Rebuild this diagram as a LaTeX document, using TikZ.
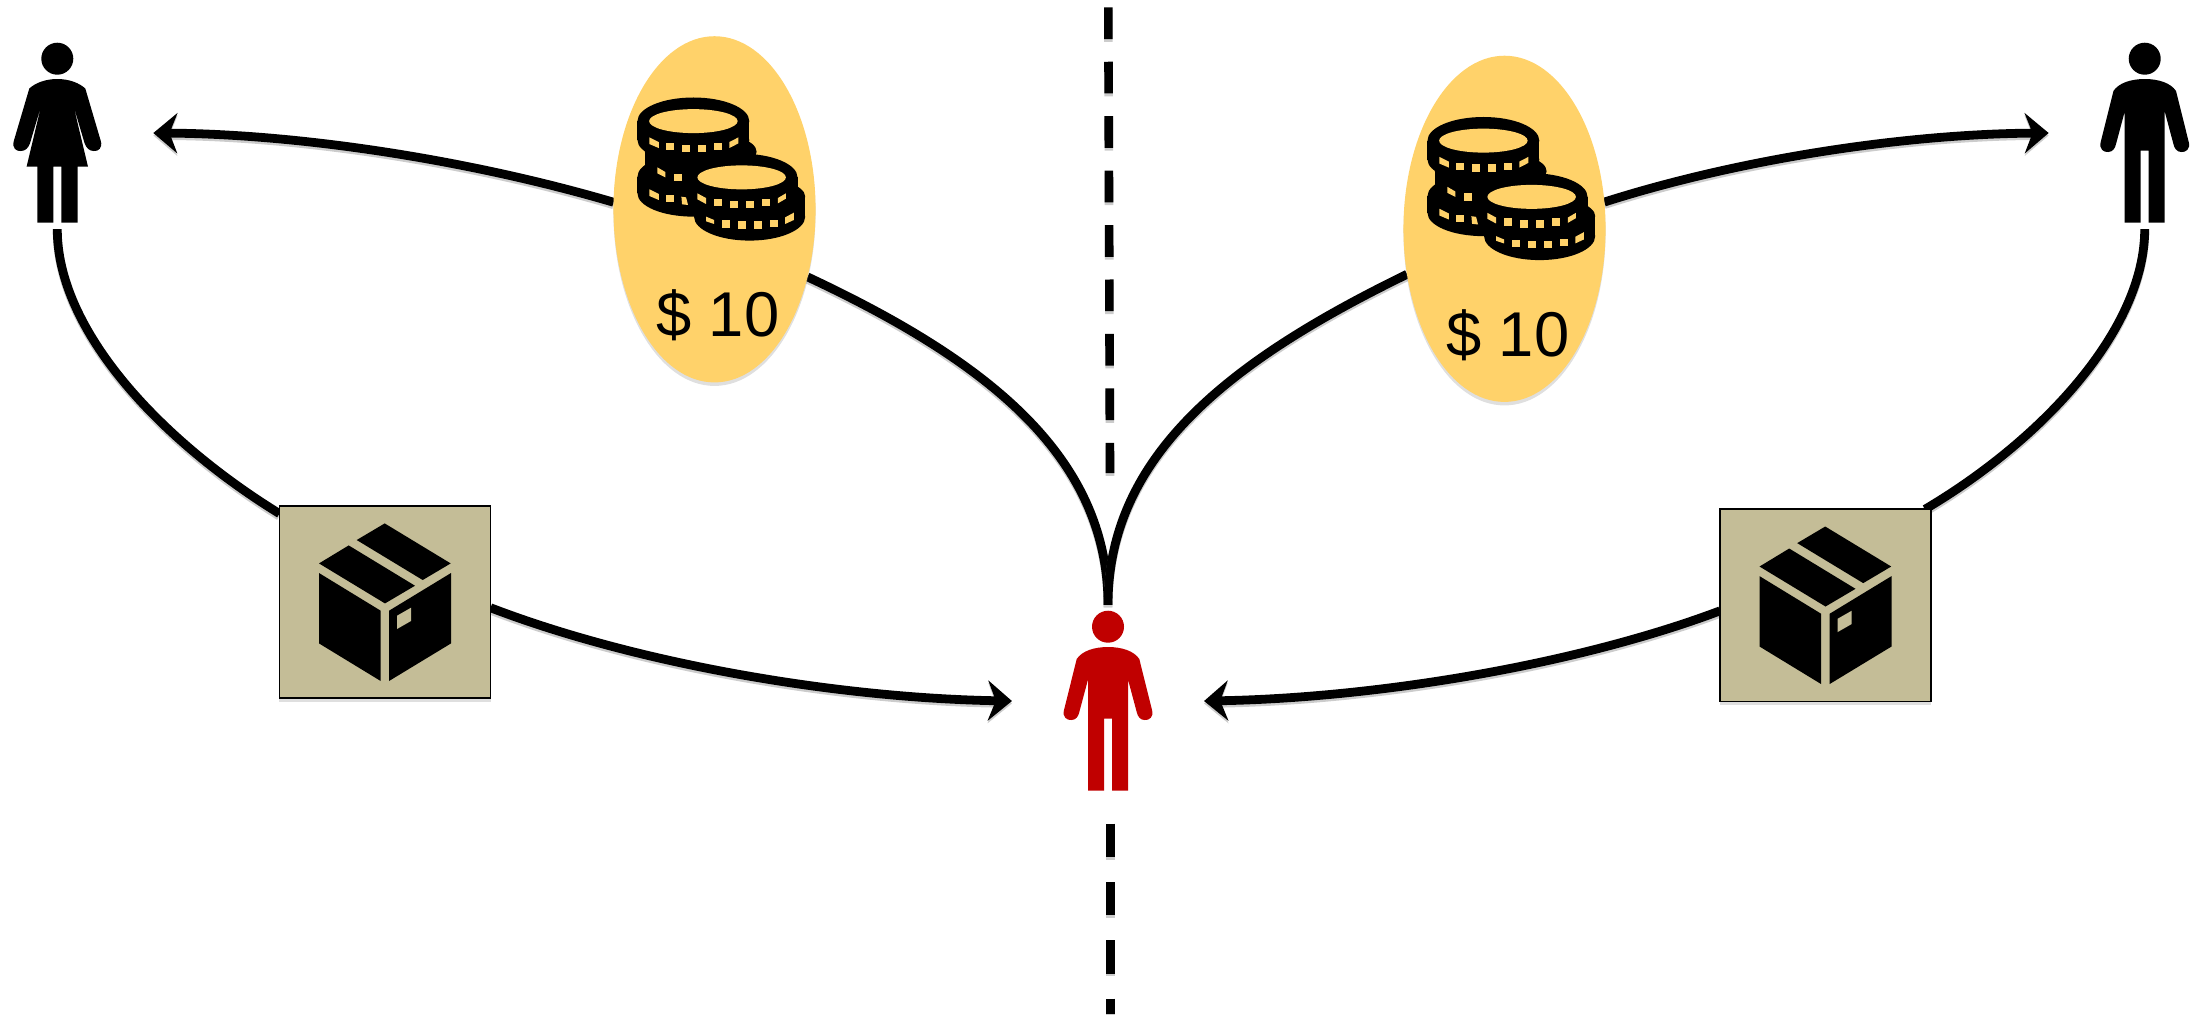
\documentclass[tikz,border=0pt]{standalone}
\usepackage{fontspec}
\setmainfont{Liberation Sans}
\usetikzlibrary{arrows.meta, positioning, shapes.geometric, shadows, backgrounds}
\definecolor{coinyellow}{HTML}{FFD26A}
\definecolor{boxtan}{HTML}{C4BD97}
\definecolor{buyerred}{HTML}{C00000}
\begin{document}
\begin{tikzpicture}[x=0.01cm, y=-0.01cm,
    person/.style={minimum size=1.92cm, inner sep=0pt, outer sep=0pt},
    softshadow/.style={drop shadow={shadow xshift=0pt, shadow yshift=-1pt, opacity=0.25}},
    purse/.style={ellipse, fill=coinyellow, minimum width=2.02cm, minimum height=3.46cm,
                  inner sep=0pt, outer sep=0pt, softshadow},
    parcel/.style={rectangle, fill=boxtan, draw=black, line width=0.5pt, minimum width=2.11cm,
                   minimum height=1.92cm, inner sep=0pt, outer sep=0pt, softshadow},
    amount/.style={font=\fontsize{18}{20}\selectfont, inner sep=0pt},
    arr/.style={line width=2.5pt, preaction={draw=black!20, line width=2.5pt, transform canvas={yshift=-0.7pt}}},
    tipped/.style={arr, -{Stealth[length=6.8pt, width=11.4pt, inset=2.2pt]}},
    divider/.style={line width=2.45pt, dash pattern=#1,
                    preaction={draw=black!20, line width=2.45pt, dash pattern=#1, transform canvas={yshift=-0.8pt}}},
    manfig/.pic={
      \fill[pic actions] (0,-74.3) circle [radius=16];
      \fill[pic actions] (-31.3,-42) .. controls (-26,-50) and (-14,-54) .. (0,-54)
        .. controls (14,-54) and (26,-50) .. (31.3,-42) -- (44,9)
        .. controls (46,16) and (41,19.5) .. (36.5,19) .. controls (32,19) and (29.5,15) .. (28.7,11)
        -- (20,-21.5) -- (20,89.7) -- (4,89.7) -- (4,17.5) -- (-4,17.5) -- (-4,89.7) -- (-20,89.7)
        -- (-20,-21.5) -- (-28.7,11) .. controls (-29.5,15) and (-32,19) .. (-36.5,19)
        .. controls (-41,19.5) and (-46,16) .. (-44,9) -- cycle;
    },
    womanfig/.pic={
      \fill[pic actions] (0,-74.3) circle [radius=16];
      \fill[pic actions] (-28,-44.5) .. controls (-22,-50) and (-12,-54) .. (0,-54)
        .. controls (12,-54) and (22,-50) .. (28,-44.5) -- (43.5,8)
        .. controls (45.5,15) and (41,18.5) .. (36.5,18) .. controls (32,18) and (29,15) .. (27.3,10.3)
        -- (16,-28) -- (30.7,33.7) -- (20.4,33.7) -- (20.4,89.7) -- (4,89.7) -- (4,33.7)
        -- (-4,33.7) -- (-4,89.7) -- (-20,89.7) -- (-20,33.7) -- (-30.7,33.7) -- (-16,-28)
        -- (-27.3,10.3) .. controls (-29,15) and (-32,18) .. (-36.5,18)
        .. controls (-41,18.5) and (-45.5,15) .. (-43.5,8) -- cycle;
    },
    parcelfig/.pic={
      \fill (-0.3,-78.8) -- (65.7,-38.8) -- (37.7,-22.2) -- (-28.3,-62.2) -- cycle;
      \fill (-36.3,-56.8) -- (30,-16.5) -- (0,1.2) -- (-66,-38.8) -- cycle;
      \fill (-66,-29.2) -- (-4.3,8.5) -- (-4.3,78.8) -- (-66,41.2) -- cycle;
      \fill (4,8.5) -- (66,-29.2) -- (66,41.2) -- (4,78.8) -- cycle;
      \fill[boxtan] (12,13.5) -- (26,5.5) -- (26,18.8) -- (12,26.8) -- cycle;
    },
    coinsfig/.pic={
      \begin{scope}[x=0.003333cm, y=-0.003333cm, shift={(-463.5,-568)}]
        % back stack
        \fill (400,303) ellipse [x radius=168, y radius=71];
        \fill (232,303) rectangle (568,360);
        \fill (400,360) ellipse [x radius=168, y radius=68];
        \fill (422,395) ellipse [x radius=168, y radius=60];
        \fill (255,380) rectangle (545,470);
        \fill (400,470) ellipse [x radius=168, y radius=70];
        \fill (232,470) rectangle (568,520);
        \fill (400,520) ellipse [x radius=168, y radius=70];
        % front stack
        \fill (545,472) ellipse [x radius=168, y radius=71];
        \fill (377,472) rectangle (713,540);
        \fill (569,530) ellipse [x radius=167, y radius=60];
        \fill (402,530) rectangle (736,590);
        \fill (545,540) ellipse [x radius=168, y radius=62];
        \fill (569,590) ellipse [x radius=167, y radius=72];
        % faces and edges
        \fill[coinyellow] (400,303) ellipse [x radius=133, y radius=36];
        \fill[coinyellow] (545,472) ellipse [x radius=133, y radius=36];
        \foreach \sx/\sy in {317/369, 365/374, 413/374, 461/369, 341/461, 317/525,
                             461/537, 509/543, 557/543, 605/537,
                             485/601, 533/604, 581/604, 629/599}
          \fill[coinyellow] (\sx,\sy) rectangle ++(24,22);
        \fill[coinyellow] (268,352) -- (296,366) -- (296,384) -- (268,372) -- cycle;
        \fill[coinyellow] (508,366) -- (535,352) -- (535,370) -- (508,384) -- cycle;
        \fill[coinyellow] (292,442) -- (316,456) -- (316,472) -- (292,460) -- cycle;
        \fill[coinyellow] (268,508) -- (296,522) -- (296,540) -- (268,528) -- cycle;
        \fill[coinyellow] (364,530) -- (378,532) -- (384,555) -- (366,553) -- cycle;
        \fill[coinyellow] (412,520) -- (438,534) -- (438,552) -- (412,538) -- cycle;
        \fill[coinyellow] (654,534) -- (678,520) -- (678,536) -- (654,550) -- cycle;
        \fill[coinyellow] (438,590) -- (462,600) -- (462,612) -- (438,604) -- cycle;
        \fill[coinyellow] (676,592) -- (702,578) -- (702,600) -- (676,612) -- cycle;
      \end{scope}
    }
  ]
    \useasboundingbox (0,0) rectangle (2198,1014);

    \node[person] (woman) at (57.3,133) {};
    \node[person] (man) at (2144.7,133) {};
    \node[person] (buyer) at (1108,701) {};
    \node[purse] (coinL) at (714.5,209.3) {};
    \node[purse] (coinR) at (1504.5,228.8) {};
    \node[parcel] (boxL) at (385,602.2) {};
    \node[parcel] (boxR) at (1825.5,605.3) {};
    \coordinate (divA) at (1108.3,7.3);
    \coordinate (divB) at (1110,473);
    \coordinate (divC) at (1110.3,823.7);
    \coordinate (divD) at (1110.3,1014);

    \pic[fill=black] at (woman) {womanfig};
    \pic[fill=black] at (man) {manfig};
    \pic[fill=buyerred] at (buyer) {manfig};
    \pic at (coinL) {coinsfig};
    \pic at (coinR) {coinsfig};
    \pic at (boxL) {parcelfig};
    \pic at (boxR) {parcelfig};
    \node[amount] (priceL) at (717.8,315) {\$ 10};
    \node[amount] (priceR) at (1507.7,335) {\$ 10};

    \begin{scope}[on background layer]
      \draw[divider={on 9.02pt off 6.46pt}] (divA) -- (divB);
      \draw[divider={on 9.47pt off 7.11pt}] (divC) -- (divD);
      % left side
      \draw[tipped] (coinL.176) .. controls (470,160) and (300,134) .. (woman.east);
      \draw[arr] (buyer.north) .. controls (1108,455) and (985,360) .. (coinL.-36);
      \draw[arr] (woman.south) .. controls (57,330) and (160,440) .. (boxL.140);
      \draw[tipped] (boxL.-3) .. controls (640,665) and (840,698) .. (buyer.west);
      % right side
      \draw[tipped] (coinR.15) .. controls (1736,160) and (1901,134) .. (man.west);
      \draw[arr] (buyer.north) .. controls (1108,455) and (1231,360) .. (coinR.205);
      \draw[arr] (man.south) .. controls (2144.7,330) and (2042,440) .. (boxR.44);
      \draw[tipped] (boxR.183) .. controls (1576,665) and (1376,698) .. (buyer.east);
    \end{scope}
\end{tikzpicture}
\end{document}
